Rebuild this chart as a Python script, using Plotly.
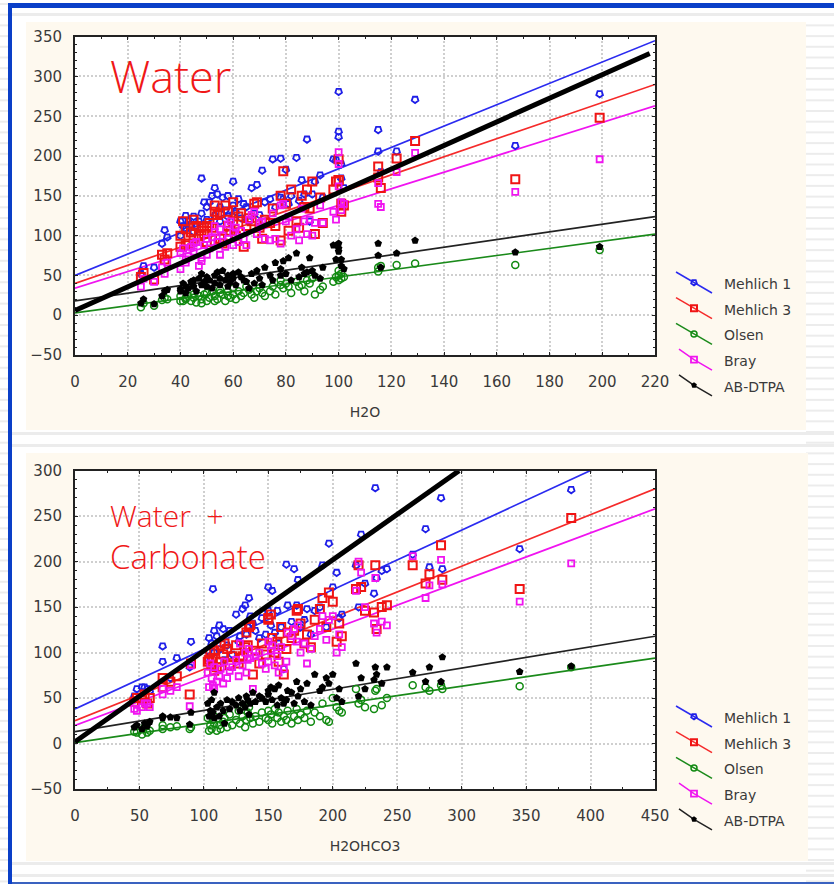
import plotly.graph_objects as go

# ---------- data: Water panel ----------
water_x = [25,26,30,33,34,35,40,40,41,42,
           42,43,44,45,45,46,47,48,48,49,
           50,50,51,52,53,53,54,55,55,56,
           57,58,58,59,60,60,61,62,63,64,
           65,66,67,68,69,70,71,72,74,75,
           76,78,78,79,80,81,82,84,85,86,
           87,88,89,90,91,93,94,98,99,100,
           100,100,101,101,102,115,115,116,122,129,
           167,199]
water_m1 = [52,62,60,90,107,98,100,118,112,125,
            108,118,114,124,105,112,118,172,128,142,
            120,136,142,150,160,125,152,118,136,148,
            132,150,124,118,168,138,130,146,122,140,
            136,118,160,128,164,126,182,142,146,196,
            136,197,148,146,183,140,150,198,144,170,
            152,221,118,152,168,176,148,196,195,281,
            231,224,190,172,160,233,206,180,206,271,
            213,278]
water_m3 = [48,53,45,76,70,78,86,100,118,88,
            108,90,104,120,96,112,100,110,106,102,
            92,112,116,110,130,138,126,96,128,90,
            138,130,112,106,142,118,100,124,128,86,
            112,122,118,140,142,110,96,120,116,134,
            112,150,94,181,140,106,158,118,110,150,
            136,158,134,168,102,148,116,158,168,196,
            170,170,140,130,138,187,173,160,197,219,
            171,248]
water_ol = [10,15,12,19,22,20,18,24,18,22,
            20,24,18,26,22,16,24,20,15,26,
            28,18,22,30,24,18,20,28,32,26,
            18,24,30,22,34,26,20,30,24,28,
            36,32,26,22,30,34,28,24,30,36,
            26,44,38,34,40,36,28,42,36,38,
            30,44,40,46,26,32,36,42,48,50,
            56,44,52,46,48,60,55,62,63,65,
            63,82]
water_br = [36,46,42,60,52,66,58,78,84,66,
            70,74,86,90,80,92,62,68,72,88,
            96,76,84,98,104,112,92,76,108,100,
            86,114,96,118,104,88,110,92,106,96,
            88,120,126,130,102,116,118,96,94,128,
            96,138,90,140,118,124,100,108,94,134,
            118,102,120,100,116,138,116,130,120,205,
            190,162,142,132,140,166,140,136,180,204,
            155,196]
water_ab = [15,20,14,24,30,32,30,33,40,36,
            28,34,42,44,36,30,46,38,52,42,
            36,48,44,34,50,40,54,46,38,56,
            44,36,50,42,52,46,38,54,48,44,
            42,34,52,40,56,46,38,60,50,44,
            66,58,50,68,52,72,44,78,48,60,
            52,54,72,56,50,46,60,88,70,90,
            84,80,70,62,58,90,75,60,78,94,
            79,86]

# ---------- data: Water + Carbonate panel ----------
carb_x = [46,48,52,54,56,58,68,68,74,79,
          89,90,103,104,105,106,107,108,108,110,
          112,113,115,116,118,120,122,125,127,128,
          130,132,133,134,135,136,138,140,143,145,
          148,150,150,152,153,155,157,158,160,162,
          164,165,168,170,172,173,175,178,180,183,
          186,190,192,195,197,200,203,205,207,218,
          220,222,225,232,233,234,238,242,262,272,
          275,284,285,345,385]
carb_m1 = [52,60,62,62,60,58,107,90,72,94,
           84,112,102,116,92,110,170,124,100,118,
           130,104,126,92,108,124,98,142,112,118,
           148,152,120,128,160,140,132,124,116,138,
           120,172,146,130,168,122,146,110,128,82,
           197,152,134,192,152,180,128,136,148,120,
           146,150,196,128,220,172,188,138,142,196,
           150,230,176,165,281,182,190,192,208,236,
           194,270,192,214,279]
carb_m3 = [46,50,48,54,44,50,72,62,68,74,
           54,88,90,92,100,86,94,80,102,84,
           90,108,98,110,104,86,96,108,88,94,
           96,106,122,108,128,130,76,102,88,110,
           98,138,136,142,116,100,112,90,128,76,
           104,122,116,124,146,148,132,110,120,106,
           136,148,160,128,166,156,112,132,118,170,
           196,172,146,144,196,126,150,152,196,176,
           186,218,180,170,248]
carb_ol = [13,12,10,18,12,14,20,16,18,19,
           16,18,28,14,20,16,26,22,30,14,
           20,16,24,28,18,32,20,26,36,22,
           30,18,26,34,40,28,22,30,24,34,
           28,36,26,32,22,38,28,34,24,30,
           26,36,22,30,38,26,32,28,36,24,
           34,30,44,26,24,50,40,36,34,60,
           44,48,40,38,58,60,42,50,64,62,
           58,64,60,63,84]
carb_br = [38,36,40,44,44,40,60,54,58,62,
           41,86,78,62,88,72,64,60,84,68,
           74,82,66,90,72,80,84,92,74,110,
           86,100,78,92,104,94,60,96,100,88,
           82,112,90,102,108,86,96,78,106,82,
           90,122,118,126,112,130,100,110,88,104,
           118,126,140,114,136,140,100,120,106,168,
           200,188,150,132,182,122,134,130,206,160,
           174,202,175,156,198]
carb_ab = [18,20,16,22,19,24,30,28,29,28,
           21,34,44,30,36,48,34,28,56,40,
           30,44,36,22,48,38,46,42,50,36,
           44,40,52,48,32,44,56,46,52,50,
           46,58,54,62,48,60,42,64,50,44,
           48,58,56,44,68,52,60,46,66,42,
           76,58,62,72,66,76,50,60,46,88,
           52,72,60,70,84,76,66,84,78,68,
           84,68,95,79,85]

# ---------- fitted lines: value at x-range ends ----------
series_names = ["Mehlich 1", "Mehlich 3", "Olsen", "Bray", "AB-DTPA"]
water_fit_x = [0, 220]
water_fit = {"Mehlich 1": [50, 345], "Mehlich 3": [40, 290], "Olsen": [3, 102], "Bray": [34, 263], "AB-DTPA": [18, 124]}
water_thick_x = [0, 218]
water_thick_y = [6, 329]
carb_fit_x = [0, 450]
carb_fit = {"Mehlich 1": [38, 333], "Mehlich 3": [25, 280], "Olsen": [1, 94], "Bray": [20, 258], "AB-DTPA": [13, 118]}
carb_thick_x = [0, 298]
carb_thick_y = [2, 300]

COLORS = {"Mehlich 1": "#1f1fe8", "Mehlich 3": "#f01414", "Olsen": "#118a11", "Bray": "#f014f0", "AB-DTPA": "#000000"}
LINE_COLORS = {**COLORS, "Mehlich 1": "#2b2bf0", "Mehlich 3": "#f52a2a", "AB-DTPA": "#222222", "Olsen": "#1a8a1a"}
MARK = {
    "Mehlich 1": dict(symbol="pentagon-open", size=7, angle=180, color=COLORS["Mehlich 1"], line=dict(width=1.8)),
    "Mehlich 3": dict(symbol="square-open", size=8, color=COLORS["Mehlich 3"], line=dict(width=2)),
    "Olsen": dict(symbol="circle-open", size=7, color=COLORS["Olsen"], line=dict(width=1.5)),
    "Bray": dict(symbol="square-open", size=6, color=COLORS["Bray"], line=dict(width=1.8)),
    "AB-DTPA": dict(symbol="pentagon", size=8, color="#000000"),
}
W, H = 834, 884
fig = go.Figure()

def panel(xa, ya, xs, ys, fit_x, fit, thick_x, thick_y):
    for n in series_names:
        fig.add_trace(go.Scatter(x=fit_x, y=fit[n], mode="lines", xaxis=xa, yaxis=ya, showlegend=False,
                                 line=dict(color=LINE_COLORS[n], width=1.7), hoverinfo="skip"))
    for n in series_names:
        fig.add_trace(go.Scatter(x=xs, y=ys[n], mode="markers", name=n, xaxis=xa, yaxis=ya, showlegend=False,
                                 marker=MARK[n]))
    fig.add_trace(go.Scatter(x=thick_x, y=thick_y, mode="lines", xaxis=xa, yaxis=ya, showlegend=False,
                             line=dict(color="#000000", width=5), hoverinfo="skip"))

panel("x", "y", water_x,
      dict(zip(series_names, [water_m1, water_m3, water_ol, water_br, water_ab])),
      water_fit_x, water_fit, water_thick_x, water_thick_y)
panel("x2", "y2", carb_x,
      dict(zip(series_names, [carb_m1, carb_m3, carb_ol, carb_br, carb_ab])),
      carb_fit_x, carb_fit, carb_thick_x, carb_thick_y)

# legend keys live on a page-sized axis pair (pixel units)
def legend_block(y0):
    for i, n in enumerate(series_names):
        yy = y0 + i * 25.7
        x0 = 676 if n not in ("Bray", "AB-DTPA") else 679
        fig.add_trace(go.Scatter(x=[x0, 694, 712], y=[yy, yy + 10.5, yy + 21], mode="lines", xaxis="x3", yaxis="y3",
                                 showlegend=False, line=dict(color=LINE_COLORS[n], width=1.5), hoverinfo="skip"))
        m = dict(MARK[n])
        m["size"] = 6
        fig.add_trace(go.Scatter(x=[694], y=[yy + 10.5], mode="markers", xaxis="x3", yaxis="y3", showlegend=False,
                                 marker=m, hoverinfo="skip"))
        fig.add_annotation(xref="x3", yref="y3", x=722, y=yy + 12, text=n, showarrow=False, xanchor="left",
                           font=dict(family="DejaVu Sans", size=14, color="#3a3a3a"))

legend_block(272)
legend_block(706)

def dom_x(a, b): return [a / W, b / W]
def dom_y(top, bot): return [1 - bot / H, 1 - top / H]

def xaxis_style(rng, dtick, dom, anchor, title, minor):
    return dict(domain=dom, anchor=anchor, range=rng, dtick=dtick, tick0=0, ticks="inside", ticklen=3, tickcolor="#222",
                showline=True, linecolor="#222222", linewidth=2, mirror="ticks", showgrid=True, automargin=False,
                gridcolor="#cfcfcf", griddash="2px,2px", gridwidth=1.5, zeroline=False,
                ticklabelstandoff=12, tickfont=dict(family="DejaVu Sans", size=15, color="#3a3a3a"),
                minor=dict(dtick=minor, ticks="inside", ticklen=2, tickcolor="#222", showgrid=False),
                title=dict(text=title, standoff=17, font=dict(family="DejaVu Sans", size=14, color="#3a3a3a")))

def yaxis_style(rng, dom, anchor):
    return dict(domain=dom, anchor=anchor, range=rng, dtick=50, tick0=0, ticks="inside", ticklen=3, tickcolor="#222",
                showline=True, linecolor="#222222", linewidth=2, mirror="ticks", showgrid=True, automargin=False,
                gridcolor="#cfcfcf", griddash="2px,2px", gridwidth=1.5, zeroline=False,
                ticklabelstandoff=8, tickfont=dict(family="DejaVu Sans", size=15, color="#3a3a3a"),
                minor=dict(dtick=10, ticks="inside", ticklen=2, tickcolor="#222", showgrid=False))

shapes = []
def rect(x0, y0, x1, y1, color):
    shapes.append(dict(type="rect", xref="paper", yref="paper", layer="below", line=dict(width=0), fillcolor=color,
                       x0=x0 / W, x1=x1 / W, y0=1 - y1 / H, y1=1 - y0 / H))

# page striping at the margins
y = 3.0
while y < H:
    rect(0, y, 8, y + 2, "#ececec")
    rect(806, y, 834, y + 2, "#ececec")
    y += 10.7
rect(12, 13, 834, 16, "#ececec")
rect(12, 432, 834, 435, "#ececec")
rect(12, 444, 834, 447, "#ececec")
rect(12, 862, 834, 865, "#ececec")
rect(12, 874, 834, 877, "#ececec")
# cream panels
rect(26, 22, 806, 430, "#fef9ef")
rect(26, 453, 808, 861, "#fef9ef")
# white plot areas
rect(75, 36.7, 655, 355, "#ffffff")
rect(75, 470.7, 655, 789, "#ffffff")
# slide border
rect(8, 3, 834, 8, "#0a3fc8")
rect(8, 3, 12, 884, "#0a3fc8")
rect(12, 882, 834, 884, "#3a62c0")

fig.update_layout(
    width=W, height=H, margin=dict(l=0, r=0, t=0, b=0, autoexpand=False), autosize=False,
    paper_bgcolor="#ffffff", plot_bgcolor="rgba(0,0,0,0)", showlegend=False, shapes=shapes,
    xaxis=xaxis_style([0, 220], 20, dom_x(75, 655), "y", "H2O", 10),
    yaxis=yaxis_style([-50, 350], dom_y(36.7, 355), "x"),
    xaxis2=xaxis_style([0, 450], 50, dom_x(75, 655), "y2", "H2OHCO3", 25),
    yaxis2=yaxis_style([-50, 300], dom_y(470.7, 789), "x2"),
    xaxis3=dict(domain=[0, 1], range=[0, W], visible=False, anchor="y3", automargin=False),
    yaxis3=dict(domain=[0, 1], range=[H, 0], visible=False, anchor="x3", automargin=False),
)

# red slide captions
CAP = dict(xref="x3", yref="y3", showarrow=False, xanchor="left")
fig.add_annotation(x=108, y=75, text="Water", font=dict(family="Open Sans", size=45, color="#f01818", weight=300), **CAP)
fig.add_annotation(x=108, y=515, text="Water  +", font=dict(family="Open Sans", size=30, color="#f01818", weight=300), **CAP)
fig.add_annotation(x=108, y=556, text="Carbonate", font=dict(family="Open Sans", size=33, color="#f01818", weight=300), **CAP)

fig.write_html("out.html", config={"displayModeBar": False},
               post_script="var gd=document.getElementById('{plot_id}');document.body.style.margin='0';gd.style.position='fixed';gd.style.left='0px';gd.style.top='0px';")
